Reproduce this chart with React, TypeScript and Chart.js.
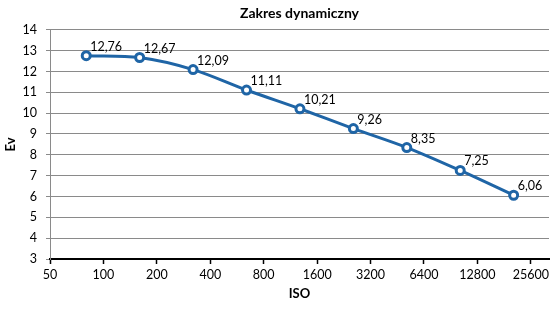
import React, { useEffect, useRef } from "react";
import { Chart, registerables } from "chart.js";

Chart.register(...registerables);

const isoValues = [80, 160, 320, 640, 1280, 2560, 5120, 10240, 20480];
const evValues = [12.76, 12.67, 12.09, 11.11, 10.21, 9.26, 8.35, 7.25, 6.06];
const xTickValues = [50, 100, 200, 400, 800, 1600, 3200, 6400, 12800, 25600];
const chartTitle = "Zakres dynamiczny";
const xTitle = "ISO";
const yTitle = "Ev";

const BLUE = "#1F65A6";
const GRID = "#8A8A8A";
const FONT = "Lato, 'Liberation Sans', sans-serif";

const labelPlugin = {
  id: "pointLabels",
  afterDatasetsDraw(chart: any) {
    const meta = chart.getDatasetMeta(0);
    const ctx = chart.ctx;
    ctx.save();
    ctx.font = `12.5px ${FONT}`;
    ctx.fillStyle = "#000";
    ctx.textAlign = "left";
    ctx.textBaseline = "middle";
    meta.data.forEach((pt: any, i: number) => {
      const txt = evValues[i].toFixed(2).replace(".", ",");
      ctx.fillText(txt, pt.x + 4, pt.y - 9);
    });
    ctx.restore();
  },
};

export default function App() {
  const ref = useRef<HTMLCanvasElement>(null);
  useEffect(() => {
    document.body.style.margin = "0";
    const chart = new Chart(ref.current as HTMLCanvasElement, {
      type: "line",
      data: {
        datasets: [
          {
            data: isoValues.map((x, i) => ({ x, y: evValues[i] })),
            borderColor: BLUE,
            borderWidth: 3,
            tension: 0.33,
            pointRadius: 4,
            pointBorderWidth: 3,
            pointBackgroundColor: "#ffffff",
            pointBorderColor: BLUE,
          },
        ],
      },
      options: {
        animation: false,
        responsive: false,
        layout: { padding: { left: 3, right: 11, top: 0, bottom: 8 } },
        plugins: {
          legend: { display: false },
          tooltip: { enabled: false },
          title: {
            display: true,
            text: chartTitle,
            fullSize: false,
            color: "#000",
            font: { family: FONT, size: 14, weight: "bold" },
            padding: { top: 5, bottom: 8 },
          },
        },
        scales: {
          x: {
            type: "logarithmic",
            min: 50,
            max: 32400,
            afterBuildTicks: (scale: any) => {
              scale.ticks = xTickValues.map((v) => ({ value: v }));
            },
            afterFit: (scale: any) => {
              scale.height = 43;
            },
            ticks: {
              autoSkip: false,
              maxRotation: 0,
              color: "#000",
              padding: 3,
              font: { family: FONT, size: 12.5 },
              callback: (v: any) => String(v),
            },
            grid: {
              drawOnChartArea: false,
              drawTicks: true,
              tickLength: 5,
              tickColor: "#000",
              tickWidth: 1.5,
            },
            border: { display: true, color: "#000", width: 2 },
            title: {
              display: true,
              text: xTitle,
              color: "#000",
              font: { family: FONT, size: 13, weight: "bold" },
              padding: 0,
            },
          },
          y: {
            min: 3,
            max: 14,
            afterFit: (scale: any) => {
              scale.width = 47;
            },
            ticks: {
              stepSize: 1,
              color: "#000",
              padding: 9,
              font: { family: FONT, size: 12.5 },
            },
            grid: {
              color: (c: any) => (c.tick && c.tick.value === 3 ? "rgba(0,0,0,0)" : GRID),
              tickColor: GRID,
              tickLength: 4,
              lineWidth: 1,
            },
            border: { display: true, color: GRID, width: 1 },
            title: {
              display: true,
              text: yTitle,
              color: "#000",
              font: { family: FONT, size: 13, weight: "bold" },
              padding: 0,
            },
          },
        },
      },
      plugins: [labelPlugin],
    } as any);
    return () => chart.destroy();
  }, []);
  return (
    <div style={{ width: 560, height: 310, background: "#fff" }}>
      <canvas ref={ref} width={560} height={310} style={{ display: "block" }} />
    </div>
  );
}
